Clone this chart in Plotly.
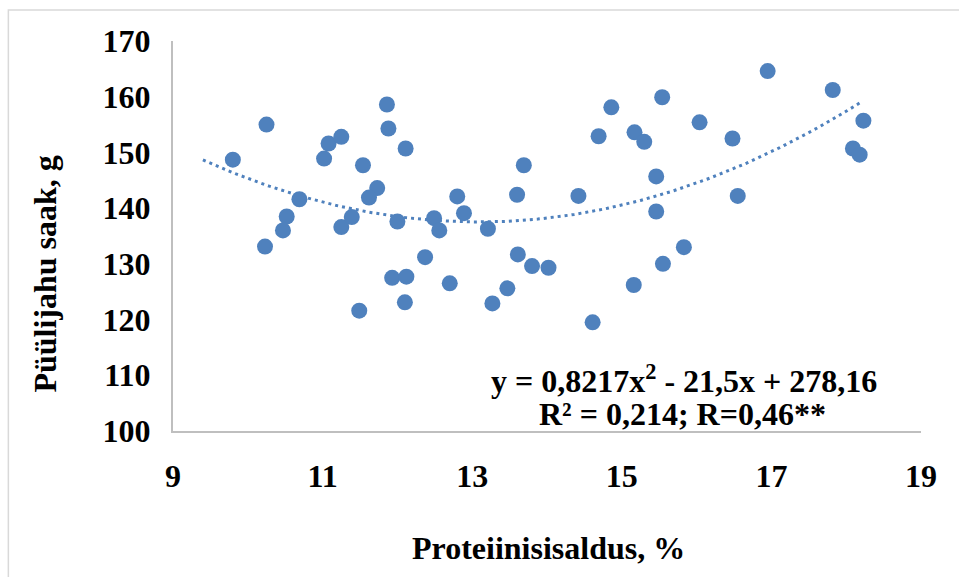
import numpy as np
import plotly.graph_objects as go

# Protein content (%) and yield (g)
protein = [9.80, 10.25, 11.02, 11.08, 11.25, 11.86, 11.88, 12.11, 11.54, 11.73,
           11.62, 10.69, 10.52, 10.47, 10.23, 11.25, 11.39, 12.00, 12.49, 12.56,
           12.80, 12.89, 13.21, 13.60, 13.69, 14.42, 14.69, 14.86, 15.17, 15.30,
           15.54, 15.46, 15.46, 15.83, 16.04, 16.48, 16.55, 16.95, 17.82, 18.23,
           18.09, 18.18, 11.49, 11.93, 12.12, 12.10, 12.37, 12.70, 13.27, 13.47,
           13.61, 13.80, 14.02, 14.61, 15.16, 15.55]
yield_g = [148.7, 155.0, 148.9, 151.6, 152.8, 158.6, 154.3, 150.7, 147.7, 143.6,
           141.9, 141.6, 138.5, 136.0, 133.1, 136.6, 138.4, 137.6, 138.2, 136.0,
           142.1, 139.1, 136.3, 142.4, 147.7, 142.2, 152.9, 158.1, 153.6, 151.9,
           159.9, 145.7, 139.4, 133.0, 155.4, 152.5, 142.2, 164.6, 161.2, 155.7,
           150.7, 149.6, 121.6, 127.5, 127.7, 123.1, 131.2, 126.5, 122.9, 125.6,
           131.7, 129.6, 129.3, 119.5, 126.2, 130.0]

# Polynomial trendline coefficients as printed on the chart (a, b, c)
trend_coeffs = [0.8217, -21.5, 278.16]
trend_span = [9.4, 18.22]

x_ticks = [9, 11, 13, 15, 17, 19]
y_ticks = [100, 110, 120, 130, 140, 150, 160, 170]

eq_line1 = "y = 0,8217x<sup>2</sup> - 21,5x + 278,16"
eq_line2 = "R² = 0,214; R=0,46**"
x_title = "Proteiinisisaldus, %"
y_title = "Püülijahu saak, g"

FONT = "Liberation Serif"
BLUE = "#4F81BD"
FS = 32

tx = np.linspace(trend_span[0], trend_span[1], 200)
ty = np.polyval(trend_coeffs, tx)

fig = go.Figure()
fig.add_trace(go.Scatter(
    x=tx, y=ty, mode="lines",
    line=dict(color=BLUE, width=3, dash="3px,4px"),
    hoverinfo="skip", showlegend=False))
fig.add_trace(go.Scatter(
    x=protein, y=yield_g, mode="markers",
    marker=dict(color=BLUE, size=16, line=dict(width=0)),
    showlegend=False))

L, R, T, B = 172.7, 38, 40.5, 146
W, H = 959, 577
pw = W - L - R
ph = H - T - B

def px_x(p):
    return (p - L) / pw

def px_y(p):
    return (H - B - p) / ph

fig.update_layout(
    width=W, height=H,
    margin=dict(l=L, r=R, t=T, b=B, pad=0),
    paper_bgcolor="white", plot_bgcolor="white",
    font=dict(family=FONT, size=FS, color="black"),
    xaxis=dict(range=[9, 19], tickvals=x_ticks, ticktext=[str(v) for v in x_ticks],
               showgrid=False, zeroline=False, showline=True, linecolor="#BFBFBF",
               linewidth=2, ticks="", ticklabelstandoff=16,
               tickfont=dict(family=FONT, size=FS, color="black", weight="bold")),
    yaxis=dict(range=[100, 170], tickvals=y_ticks, ticktext=[str(v) for v in y_ticks],
               showgrid=False, zeroline=False, showline=True, linecolor="#BFBFBF",
               linewidth=2, ticks="", ticklabelstandoff=14,
               tickfont=dict(family=FONT, size=FS, color="black", weight="bold")),
    shapes=[dict(type="rect", xref="paper", yref="paper",
                 x0=px_x(8), x1=1.3, y0=-0.6, y1=px_y(9.5),
                 line=dict(color="#D9D9D9", width=1.5), fillcolor="rgba(0,0,0,0)",
                 layer="below")],
    annotations=[
        dict(text=f"<b>{eq_line1}</b>", xref="paper", yref="paper",
             x=px_x(684), y=px_y(379), showarrow=False,
             font=dict(family=FONT, size=FS, color="black"), xanchor="center", yanchor="middle"),
        dict(text=f"<b>{eq_line2}</b>", xref="paper", yref="paper",
             x=px_x(682), y=px_y(414), showarrow=False,
             font=dict(family=FONT, size=FS, color="black"), xanchor="center", yanchor="middle"),
        dict(text=f"<b>{x_title}</b>", xref="paper", yref="paper",
             x=px_x(548), y=px_y(548), showarrow=False,
             font=dict(family=FONT, size=FS, color="black"), xanchor="center", yanchor="middle"),
        dict(text=f"<b>{y_title}</b>", xref="paper", yref="paper",
             x=px_x(45), y=px_y(274), showarrow=False, textangle=-90,
             font=dict(family=FONT, size=FS, color="black"), xanchor="center", yanchor="middle"),
    ],
)

fig.write_html("out.html")
